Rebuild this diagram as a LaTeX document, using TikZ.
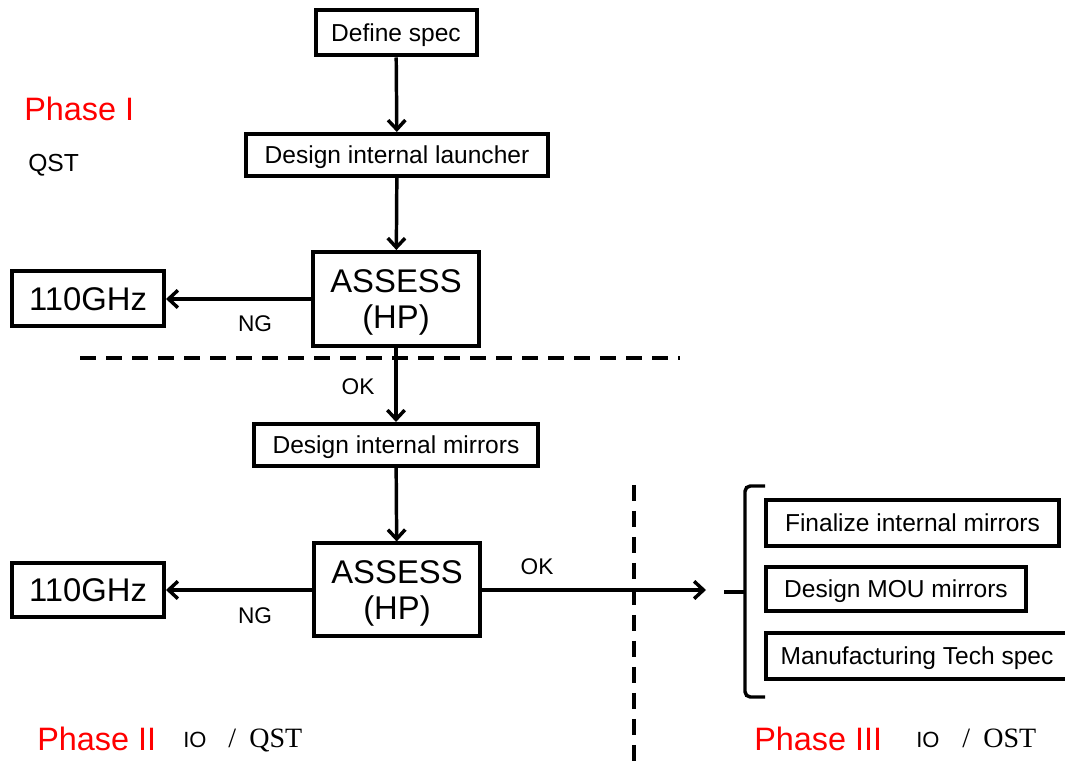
\documentclass[tikz,border=0pt]{standalone}
\usepackage{fontspec}
\setmainfont{Liberation Sans}
\newfontfamily\serifqst{Liberation Serif}
\usetikzlibrary{arrows.meta}
\begin{document}
\begin{tikzpicture}[x=0.75pt,y=-0.75pt,
  box/.style={draw,line width=3pt,inner sep=0pt,align=center,text depth=0pt},
  smalltxt/.style={font=\fontsize{18.4pt}{20pt}\selectfont},
  bigtxt/.style={font=\fontsize{24.6pt}{27.5pt}\selectfont},
  lbl/.style={font=\fontsize{17pt}{19pt}\selectfont,inner sep=0pt},
  arr/.style={line width=2.6pt,-{Straight Barb[length=7pt,width=13pt,line width=2.6pt]}},
  phase/.style={text=red,font=\fontsize{24.3pt}{26pt}\selectfont,inner sep=0pt,anchor=base west},
  small/.style={font=\fontsize{16.5pt}{18pt}\selectfont,inner sep=0pt,anchor=base west},
  serifs/.style={font=\serifqst\fontsize{21pt}{23pt}\selectfont,inner sep=0pt,anchor=base west},
  sepline/.style={line width=2.6pt,dash pattern=on 12pt off 7.5pt}
]
\useasboundingbox (0,0) rectangle (1065,762);
% top chain
\node[box,smalltxt,minimum width={161*0.75pt},minimum height={45*0.75pt}] (spec) at (396,33) {Define spec};
\node[box,smalltxt,minimum width={302*0.75pt},minimum height={42*0.75pt}] (launch) at (397,155) {Design internal launcher};
\node[box,bigtxt,minimum width={166*0.75pt},minimum height={94*0.75pt}] (as1) at (396,299) {ASSESS\\(HP)};
\node[box,bigtxt,minimum width={152*0.75pt},minimum height={55*0.75pt}] (ghz1) at (88,299) {110GHz};
\node[box,smalltxt,minimum width={284*0.75pt},minimum height={42*0.75pt}] (mirr) at (396,445) {Design internal mirrors};
\node[box,bigtxt,minimum width={166*0.75pt},minimum height={93*0.75pt}] (as2) at (397,590) {ASSESS\\(HP)};
\node[box,bigtxt,minimum width={152*0.75pt},minimum height={54*0.75pt}] (ghz2) at (88,590) {110GHz};
% right boxes
\node[box,smalltxt,minimum width={293*0.75pt},minimum height={46*0.75pt},anchor=west] (fin) at (764,523) {Finalize internal mirrors};
\node[box,smalltxt,minimum width={260*0.75pt},minimum height={44*0.75pt},anchor=west] (mou) at (764,589) {Design MOU mirrors};
\node[box,smalltxt,minimum width={302*0.75pt},minimum height={46*0.75pt},anchor=west] (manu) at (764,656) {Manufacturing Tech spec};
% arrows
\draw[arr] (spec) -- (launch);
\draw[arr] (launch) -- (as1);
\draw[arr] (as1.west) -- (ghz1.east);
\draw[arr] (as1) -- (mirr);
\draw[arr] (mirr) -- (as2);
\draw[arr] (as2.west) -- (ghz2.east);
\coordinate (okend) at (706,590);
\draw[arr] (as2.east) -- (okend);
% labels
\node[lbl] (ng1) at (255,324) {NG};
\node[lbl] (ok1) at (358,387) {OK};
\node[lbl] (ng2) at (255,616) {NG};
\node[lbl] (ok2) at (537,567) {OK};
% separators
\coordinate (d1a) at (80,358);
\coordinate (d1b) at (680,358);
\draw[sepline] (d1a) -- (d1b);
\coordinate (d2a) at (634,485);
\coordinate (d2b) at (634,762);
\draw[sepline] (d2a) -- (d2b);
% brace
\coordinate (bt) at (765,486);
\coordinate (bb) at (765,697);
\coordinate (btip) at (724,592);
\draw[line width=2.6pt,rounded corners=4pt] (bt) -- (745,486) -- (745,697) -- (bb);
\draw[line width=2.6pt] (btip) -- (745,592);
% phase labels
\node[phase] (p1) at (24,121) {Phase I};
\node[small,font=\fontsize{18.5pt}{20pt}\selectfont] (qst1) at (28,172) {QST};
\node[phase] (p2) at (37,751) {Phase II};
\node[small] (io2) at (183,748) {IO};
\node[serifs] (q2) at (228,748) {/\hspace{10pt}QST};
\node[phase] (p3) at (754,751) {Phase III};
\node[small] (io3) at (916,748) {IO};
\node[serifs] (q3) at (962,748) {/\hspace{10pt}OST};
\end{tikzpicture}
\end{document}
